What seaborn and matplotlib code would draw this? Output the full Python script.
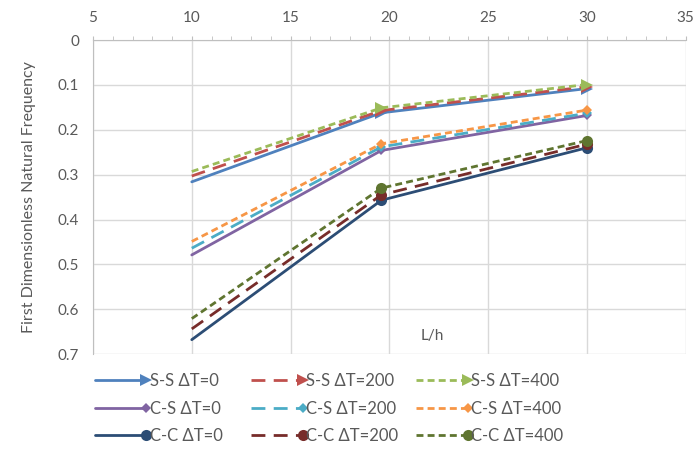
import matplotlib
matplotlib.use("Agg")
import matplotlib.pyplot as plt
import numpy as np
import pandas as pd
import seaborn as sns
from matplotlib.legend_handler import HandlerLine2D
from matplotlib.ticker import MultipleLocator

# Data
l_over_h = [10, 19.6, 30]

ss_dt0 = [0.316, 0.162, 0.108]
ss_dt200 = [0.303, 0.157, 0.104]
ss_dt400 = [0.293, 0.151, 0.099]
cs_dt0 = [0.479, 0.246, 0.168]
cs_dt200 = [0.464, 0.238, 0.163]
cs_dt400 = [0.449, 0.231, 0.156]
cc_dt0 = [0.668, 0.357, 0.240]
cc_dt200 = [0.644, 0.345, 0.232]
cc_dt400 = [0.621, 0.330, 0.224]

series_names = [
    "S-S ΔT=0", "S-S ΔT=200", "S-S ΔT=400",
    "C-S ΔT=0", "C-S ΔT=200", "C-S ΔT=400",
    "C-C ΔT=0", "C-C ΔT=200", "C-C ΔT=400",
]
series_values = [ss_dt0, ss_dt200, ss_dt400,
                 cs_dt0, cs_dt200, cs_dt400,
                 cc_dt0, cc_dt200, cc_dt400]

# Styles (Excel 2007 palette)
colors = {
    "S-S ΔT=0": "#4F81BD", "S-S ΔT=200": "#C0504D", "S-S ΔT=400": "#9BBB59",
    "C-S ΔT=0": "#8064A2", "C-S ΔT=200": "#4BACC6", "C-S ΔT=400": "#F79646",
    "C-C ΔT=0": "#2C4D75", "C-C ΔT=200": "#772C2A", "C-C ΔT=400": "#5F7530",
}
dashes = ["-", (0, (5, 3)), (0, (2.5, 1.5))]
markers = {"S-S": ">", "C-S": "D", "C-C": "o"}
marker_sizes = {"S-S": 8, "C-S": 5, "C-C": 8}


class EndMarkerHandler(HandlerLine2D):
    """Legend line with the marker drawn at the right end, Excel style."""

    def create_artists(self, legend, orig_handle, xdescent, ydescent,
                       width, height, fontsize, trans):
        arts = super().create_artists(legend, orig_handle, xdescent, ydescent,
                                      width, height, fontsize, trans)
        for a in arts:
            a.set_markevery([2])
        return arts


rows = []
for name, vals in zip(series_names, series_values):
    for x, y in zip(l_over_h, vals):
        rows.append({"series": name, "L/h": x, "freq": y})
df = pd.DataFrame(rows)

sns.set_style("white")
plt.rcParams["font.family"] = ["Lato", "DejaVu Sans"]

fig = plt.figure(figsize=(6.94, 4.51), dpi=100)
ax = fig.add_axes([0.134, 0.215, 0.854, 0.696])

handles = {}
for i, name in enumerate(series_names):
    kind = name[:3]
    sub = df[df["series"] == name]
    sns.lineplot(
        data=sub, x="L/h", y="freq", ax=ax,
        color=colors[name], linestyle=dashes[i % 3], linewidth=2,
        marker=markers[kind], markersize=marker_sizes[kind],
        markeredgewidth=0, markevery=[1, 2], label=name,
        estimator=None, sort=False,
    )
    handles[name] = ax.get_lines()[-1]
ax.get_legend().remove()

ax.set_xlim(5, 35)
ax.set_ylim(0.7, 0)
ax.xaxis.set_major_locator(MultipleLocator(5))
ax.xaxis.set_minor_locator(MultipleLocator(1))
ax.yaxis.set_minor_locator(MultipleLocator(0.02))
ax.xaxis.tick_top()
ax.set_yticks(np.arange(0, 0.71, 0.1))
ax.set_yticklabels(["0", "0.1", "0.2", "0.3", "0.4", "0.5", "0.6", "0.7"])

ax.grid(True, which="major", color="#D9D9D9", linewidth=1)
ax.set_axisbelow(True)
for side in ["right", "bottom"]:
    ax.spines[side].set_visible(False)
for side in ["left", "top"]:
    ax.spines[side].set_color("#BFBFBF")
ax.tick_params(axis="both", which="both", colors="#BFBFBF", labelcolor="#595959",
               labelsize=11, direction="out", length=3)
ax.tick_params(axis="x", which="major", pad=8)
ax.tick_params(axis="y", which="major", pad=7)

ax.set_xlabel("")
ax.set_ylabel("First Dimensionless Natural Frequency", color="#595959", fontsize=11.5,
              labelpad=16)
ax.text(22.2, 0.66, "L/h", color="#595959", fontsize=11, ha="center", va="center")

# Legend: three columns placed like the original
legend_cols = [
    (0.127, ["S-S ΔT=0", "C-S ΔT=0", "C-C ΔT=0"]),
    (0.352, ["S-S ΔT=200", "C-S ΔT=200", "C-C ΔT=200"]),
    (0.590, ["S-S ΔT=400", "C-S ΔT=400", "C-C ΔT=400"]),
]
for x0, names in legend_cols:
    leg = fig.legend(
        [handles[n] for n in names], names, loc="upper left",
        bbox_to_anchor=(x0, 0.188), borderaxespad=0, frameon=False, fontsize=12,
        handlelength=3.1, labelspacing=0.7, handletextpad=0.2, numpoints=1,
        handler_map={matplotlib.lines.Line2D: EndMarkerHandler()},
    )
    for t in leg.get_texts():
        t.set_color("#595959")

fig.savefig("out.png", dpi=100)
